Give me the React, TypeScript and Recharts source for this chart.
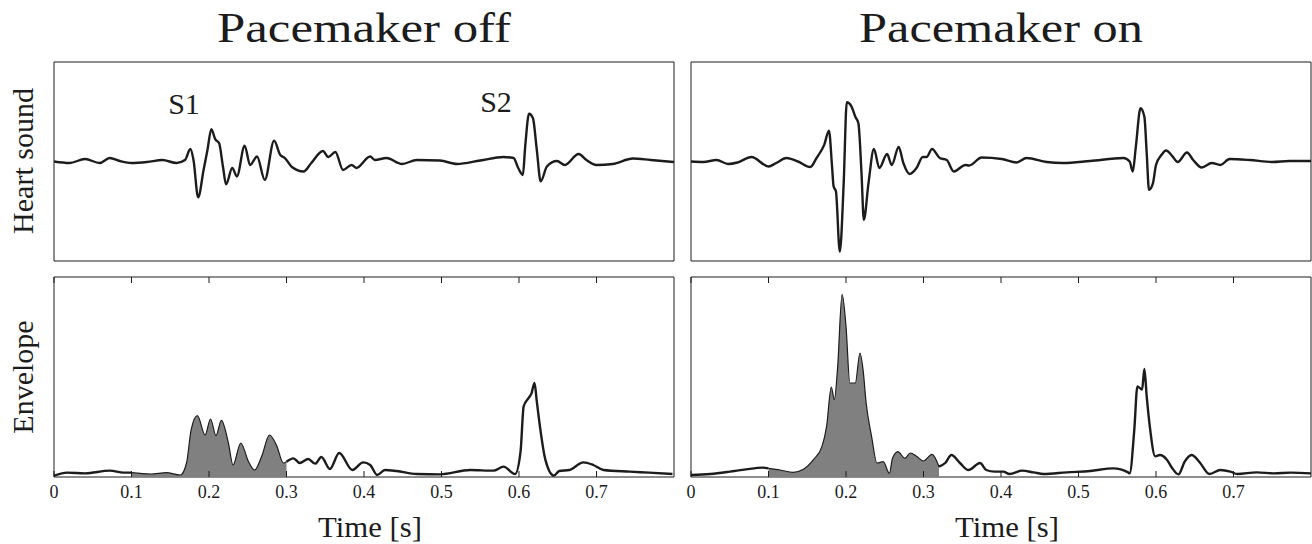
import React from 'react';
import { Area, ComposedChart, Line, ReferenceArea, XAxis, YAxis } from 'recharts';

// [time (s), amplitude]
const offSound: [number, number][] = [
  [0, 0], [0.02, -0.03], [0.04, 0.05], [0.059, -0.03], [0.072, 0.07], [0.085, 0.01], [0.1, -0.03],
  [0.12, -0.01], [0.14, 0.03], [0.158, -0.03], [0.169, 0.03], [0.176, 0.25], [0.18, 0.03], [0.186, -0.72],
  [0.193, -0.17], [0.198, 0.23], [0.203, 0.65], [0.208, 0.45], [0.213, 0.37], [0.218, -0.1], [0.222, -0.46],
  [0.23, -0.13], [0.236, -0.3], [0.246, 0.32], [0.253, -0.07], [0.262, 0.1], [0.272, -0.37], [0.284, 0.42],
  [0.292, 0.13], [0.298, 0.07], [0.307, -0.11], [0.322, -0.2], [0.332, -0.03], [0.347, 0.21], [0.354, 0.09],
  [0.363, 0.19], [0.373, -0.17], [0.384, -0.07], [0.39, -0.13], [0.408, 0.1], [0.414, 0.03], [0.429, 0.07],
  [0.449, -0.05], [0.468, 0.03], [0.498, 0.02], [0.52, -0.05], [0.55, 0.02], [0.58, 0.09], [0.593, 0.07],
  [0.599, -0.13], [0.605, -0.27], [0.608, 0.3], [0.613, 0.96], [0.618, 0.87], [0.623, 0.23], [0.628, -0.4],
  [0.636, -0.1], [0.649, 0.01], [0.659, -0.07], [0.677, 0.15], [0.687, 0.03], [0.7, -0.07], [0.721, -0.05],
  [0.747, 0.06], [0.77, 0.03], [0.8, -0.01],
];

const offEnvelope: [number, number][] = [
  [0, 0.02], [0.017, 0.065], [0.04, 0.055], [0.072, 0.095], [0.09, 0.065], [0.1, 0.065], [0.125, 0.045],
  [0.145, 0.065], [0.163, 0.03], [0.171, 0.21], [0.177, 0.71], [0.185, 0.92], [0.195, 0.63], [0.202, 0.87],
  [0.209, 0.62], [0.216, 0.85], [0.225, 0.51], [0.231, 0.18], [0.241, 0.51], [0.251, 0.23], [0.259, 0.105],
  [0.268, 0.31], [0.278, 0.63], [0.287, 0.48], [0.296, 0.21], [0.3, 0.23], [0.309, 0.28], [0.317, 0.21],
  [0.328, 0.27], [0.337, 0.2], [0.345, 0.3], [0.356, 0.12], [0.368, 0.36], [0.385, 0.105], [0.399, 0.22],
  [0.408, 0.18], [0.417, 0.03], [0.427, 0.105], [0.442, 0.09], [0.468, 0.045], [0.498, 0.04], [0.537, 0.105],
  [0.567, 0.095], [0.58, 0.155], [0.595, 0.045], [0.602, 0.38], [0.606, 1.06], [0.612, 1.18], [0.616, 1.25],
  [0.62, 1.41], [0.623, 1.13], [0.627, 0.76], [0.634, 0.26], [0.645, 0.02], [0.652, 0.09], [0.665, 0.105],
  [0.683, 0.22], [0.696, 0.18], [0.709, 0.105], [0.743, 0.08], [0.768, 0.065], [0.798, 0.045],
];

const onSound: [number, number][] = [
  [0, 0], [0.016, -0.01], [0.033, 0.03], [0.048, -0.05], [0.06, -0.02], [0.078, 0.09], [0.1, -0.1],
  [0.11, -0.03], [0.123, 0.07], [0.138, 0], [0.154, -0.11], [0.162, 0.07], [0.172, 0.34], [0.178, 0.62],
  [0.182, -0.1], [0.184, -0.5], [0.187, -0.6], [0.192, -1.81], [0.197, -0.44], [0.201, 1.19], [0.207, 1.11],
  [0.212, 0.9], [0.216, 0.77], [0.22, -0.23], [0.223, -1.17], [0.229, -0.44], [0.236, 0.25], [0.243, -0.13],
  [0.253, 0.15], [0.259, -0.07], [0.268, 0.29], [0.274, -0.03], [0.282, -0.25], [0.291, -0.13], [0.299, 0.09],
  [0.304, 0.09], [0.311, 0.25], [0.321, 0.07], [0.33, 0.03], [0.339, -0.2], [0.354, -0.07], [0.359, -0.08],
  [0.375, 0.08], [0.401, 0.05], [0.42, -0.02], [0.433, 0.07], [0.459, -0.01], [0.48, -0.03], [0.515, 0.01],
  [0.558, 0.07], [0.566, 0], [0.57, -0.2], [0.574, 0.3], [0.58, 1.07], [0.585, 0.9], [0.588, 0.17],
  [0.591, -0.57], [0.596, -0.44], [0.6, -0.07], [0.607, 0.13], [0.613, 0.22], [0.621, 0.11], [0.628, -0.01],
  [0.64, 0.18], [0.648, 0.03], [0.659, -0.12], [0.672, -0.03], [0.683, -0.07], [0.695, 0.05], [0.721, 0.03],
  [0.75, -0.01], [0.772, 0.01], [0.8, 0.01],
];

const onEnvelope: [number, number][] = [
  [0, 0.03], [0.025, 0.045], [0.05, 0.08], [0.071, 0.115], [0.093, 0.14], [0.1, 0.13], [0.115, 0.105],
  [0.132, 0.07], [0.145, 0.115], [0.158, 0.26], [0.169, 0.46], [0.175, 0.76], [0.181, 1.35], [0.185, 1.16],
  [0.189, 1.61], [0.195, 2.74], [0.2, 2.26], [0.205, 1.41], [0.212, 1.41], [0.218, 1.86], [0.222, 1.61],
  [0.226, 1.11], [0.233, 0.61], [0.24, 0.21], [0.248, 0.23], [0.256, 0.055], [0.26, 0.28], [0.267, 0.38],
  [0.276, 0.28], [0.283, 0.36], [0.291, 0.31], [0.3, 0.24], [0.311, 0.34], [0.32, 0.155], [0.328, 0.21],
  [0.336, 0.33], [0.347, 0.21], [0.358, 0.105], [0.373, 0.21], [0.381, 0.105], [0.392, 0.08], [0.403, 0.08],
  [0.411, 0.045], [0.427, 0.095], [0.442, 0.07], [0.455, 0.045], [0.485, 0.07], [0.515, 0.09], [0.545, 0.13],
  [0.564, 0.07], [0.566, 0.055], [0.572, 0.71], [0.576, 1.36], [0.582, 1.31], [0.585, 1.62], [0.588, 1.21],
  [0.592, 0.76], [0.599, 0.31], [0.605, 0.33], [0.614, 0.26], [0.621, 0.13], [0.629, 0.04], [0.637, 0.23],
  [0.646, 0.33], [0.657, 0.21], [0.669, 0.045], [0.683, 0.105], [0.696, 0.08], [0.705, 0.045], [0.73, 0.07],
  [0.752, 0.055], [0.774, 0.065], [0.8, 0.055],
];

// shaded S1 window
const offFill: [number, number] = [0.1, 0.3];
const onFill: [number, number] = [0.1, 0.32];

const timeTicks = [0, 0.1, 0.2, 0.3, 0.4, 0.5, 0.6, 0.7];
const soundTicks = [-1, 1];
const envelopeTicks = [1, 2];

const INK = '#1c1c1c';
const SERIF = '"Liberation Serif", "DejaVu Serif", serif';
const PW = 620;
const M = 6;

function soundRows(pts: [number, number][]) {
  return pts.map(([t, v]) => ({ t, v }));
}

function envelopeRows(pts: [number, number][], [a, b]: [number, number]) {
  return pts.map(([t, v]) => ({
    t,
    line: t <= a || t >= b ? v : null,
    fill: t >= a && t <= b ? v : null,
  }));
}

function yTicks(props: any) {
  return (
    <g>
      <line x1={M} x2={M + 6} y1={props.y} y2={props.y} stroke={INK} strokeWidth={1} />
      <line x1={M + PW - 6} x2={M + PW} y1={props.y} y2={props.y} stroke={INK} strokeWidth={1} />
    </g>
  );
}

function xTicks(props: any) {
  const { x, payload } = props;
  const bottom = M + 200;
  return (
    <g>
      <line x1={x} x2={x} y1={M} y2={M + 6} stroke={INK} strokeWidth={1} />
      <line x1={x} x2={x} y1={bottom - 6} y2={bottom} stroke={INK} strokeWidth={1} />
      <text x={x} y={bottom + 21} textAnchor="middle" fontFamily={SERIF} fontSize={18} fill={INK}>
        {String(payload.value)}
      </text>
    </g>
  );
}

function SoundPanel({ left, pts }: { left: number; pts: [number, number][] }) {
  return (
    <div style={{ position: 'absolute', left: left - M, top: 62 - M }}>
      <ComposedChart width={PW + 2 * M} height={199 + 2 * M} data={soundRows(pts)}
        margin={{ top: M, right: M, bottom: M, left: M }}>
        <XAxis type="number" dataKey="t" domain={[0, 0.8]} hide allowDataOverflow />
        <YAxis type="number" domain={[-2, 2]} ticks={soundTicks} width={0} axisLine={false}
          tickLine={false} tick={yTicks} allowDataOverflow />
        <ReferenceArea x1={0} x2={0.8} y1={-2} y2={2} fill="none" stroke={INK} strokeWidth={1} />
        <Line type="monotone" dataKey="v" stroke={INK} strokeWidth={2.4} dot={false} isAnimationActive={false} />
      </ComposedChart>
    </div>
  );
}

function EnvelopePanel({ left, pts, range }: { left: number; pts: [number, number][]; range: [number, number] }) {
  return (
    <div style={{ position: 'absolute', left: left - M, top: 277 - M }}>
      <ComposedChart width={PW + 2 * M} height={200 + 2 * M + 40} data={envelopeRows(pts, range)}
        margin={{ top: M, right: M, bottom: M, left: M }}>
        <XAxis type="number" dataKey="t" domain={[0, 0.8]} ticks={timeTicks} height={40}
          axisLine={false} tickLine={false} tick={xTicks} interval={0} allowDataOverflow />
        <YAxis type="number" domain={[0, 3]} ticks={envelopeTicks} width={0} axisLine={false}
          tickLine={false} tick={yTicks} allowDataOverflow />
        <ReferenceArea x1={0} x2={0.8} y1={0} y2={3} fill="none" stroke={INK} strokeWidth={1} />
        <Area type="monotone" dataKey="fill" stroke={INK} strokeWidth={1.2} fill="#808080" fillOpacity={1}
          baseValue={0} dot={false} isAnimationActive={false} />
        <Line type="monotone" dataKey="line" stroke={INK} strokeWidth={2.4} dot={false} isAnimationActive={false} />
      </ComposedChart>
    </div>
  );
}

export default function App() {
  return (
    <div style={{ position: 'absolute', left: 0, top: 0, width: 1312, height: 544, overflow: 'hidden', background: '#fff' }}>
      <SoundPanel left={54} pts={offSound} />
      <EnvelopePanel left={54} pts={offEnvelope} range={offFill} />
      <SoundPanel left={691} pts={onSound} />
      <EnvelopePanel left={691} pts={onEnvelope} range={onFill} />
      <svg width={1312} height={544} style={{ position: 'absolute', left: 0, top: 0, pointerEvents: 'none' }}
        fontFamily={SERIF} fill={INK}>
        <text x={364} y={42} textAnchor="middle" fontSize={42} textLength={294} lengthAdjust="spacingAndGlyphs">Pacemaker off</text>
        <text x={1001} y={42} textAnchor="middle" fontSize={42} textLength={284} lengthAdjust="spacingAndGlyphs">Pacemaker on</text>
        <text transform="translate(33,161) rotate(-90)" textAnchor="middle" fontSize={30}>Heart sound</text>
        <text transform="translate(33,377) rotate(-90)" textAnchor="middle" fontSize={30}>Envelope</text>
        <text x={370} y={537} textAnchor="middle" fontSize={29} textLength={104} lengthAdjust="spacingAndGlyphs">Time [s]</text>
        <text x={1007} y={537} textAnchor="middle" fontSize={29} textLength={104} lengthAdjust="spacingAndGlyphs">Time [s]</text>
        <text x={184} y={114} textAnchor="middle" fontSize={30}>S1</text>
        <text x={496} y={112} textAnchor="middle" fontSize={30}>S2</text>
      </svg>
    </div>
  );
}
